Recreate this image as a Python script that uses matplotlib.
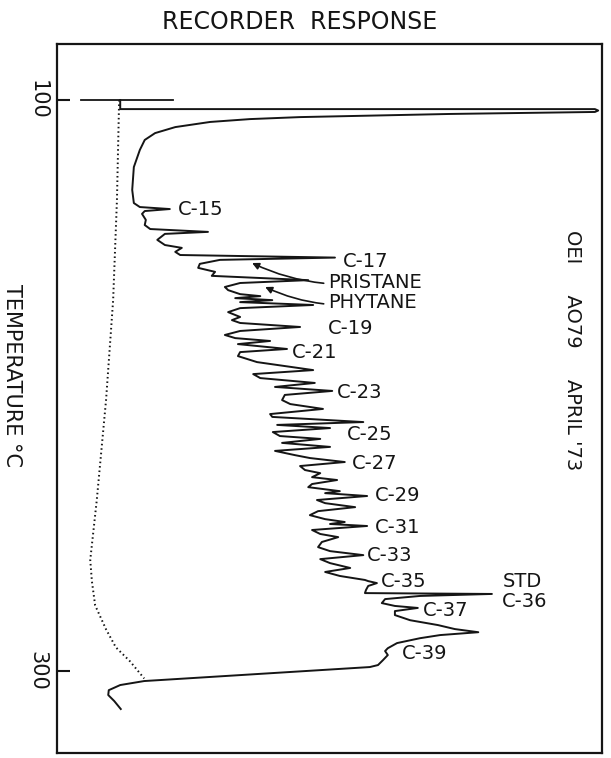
import matplotlib
matplotlib.use("Agg")
import matplotlib.pyplot as plt

plt.rcParams['font.family'] = ['DejaVu Sans']

# ---- data: chromatogram trace (temperature degC, recorder response % full scale)
trace_temp = [100.0, 103.2, 103.2, 103.7, 104.2, 104.9, 106.0, 106.7, 107.7, 109.5,
              111.6, 114.0, 117.5, 123.5, 131.5, 136.1, 137.5, 138.2, 138.9, 139.9,
              142.0, 143.8, 145.2, 146.2, 146.9, 149.0, 150.8, 151.8, 153.2, 154.3,
              155.2, 156.0, 157.4, 158.8, 160.2, 161.6, 163.1, 164.1, 165.5, 166.6,
              168.0, 168.7, 169.4, 170.1, 170.8, 171.8, 172.9, 174.3, 176.0, 177.1,
              178.1, 179.5, 180.9, 182.3, 183.4, 184.4, 185.5, 187.2, 188.3, 189.7,
              191.8, 194.6, 196.0, 197.4, 199.1, 200.5, 201.9, 203.3, 205.1, 206.5,
              208.2, 210.0, 211.0, 212.8, 213.8, 214.9, 216.3, 217.7, 218.7, 220.1,
              221.5, 222.9, 224.4, 225.4, 226.8, 228.2, 229.6, 230.7, 232.1, 233.1,
              234.5, 235.6, 237.0, 237.7, 238.7, 240.1, 241.2, 242.6, 244.0, 245.4,
              246.8, 247.8, 248.5, 249.2, 250.6, 252.0, 253.1, 254.8, 256.6, 258.0,
              259.4, 260.8, 262.2, 263.9, 265.3, 266.7, 268.1, 268.5, 269.2, 270.2,
              271.6, 272.7, 273.0, 273.7, 274.8, 276.2, 277.2, 277.9, 279.0, 280.4,
              282.2, 283.9, 285.3, 286.4, 287.4, 288.5, 290.2, 292.0, 293.0, 294.4,
              296.2, 297.9, 298.6, 303.5, 304.9, 306.7, 308.4, 310.5, 313.3]
trace_resp = [11.6, 11.6, 98.7, 99.3, 98.7, 72.1, 44.6, 35.4, 28.1, 21.7,
              18.0, 16.1, 15.2, 14.1, 13.8, 14.1, 15.2, 20.7, 16.1, 15.6,
              16.3, 16.1, 17.1, 27.7, 19.8, 18.4, 19.8, 22.9, 21.7, 22.6,
              51.0, 29.9, 26.2, 25.9, 29.0, 28.4, 46.1, 33.6, 30.8, 31.4,
              33.6, 37.3, 32.7, 39.5, 33.6, 47.0, 33.6, 31.4, 33.6, 32.1,
              33.6, 44.6, 33.6, 30.8, 32.7, 39.1, 33.2, 42.2, 33.6, 33.2,
              36.7, 47.0, 36.0, 37.3, 47.3, 40.0, 50.5, 41.8, 41.3, 42.8,
              48.8, 39.1, 39.5, 56.2, 40.4, 50.1, 39.6, 40.9, 48.3, 41.3,
              50.1, 40.0, 43.7, 46.4, 52.8, 44.6, 45.5, 48.3, 46.8, 51.4,
              46.8, 46.1, 51.9, 49.2, 56.9, 47.7, 49.2, 54.7, 47.9, 46.4,
              49.2, 52.8, 50.1, 56.9, 46.8, 48.3, 51.6, 48.6, 47.9, 50.1,
              56.2, 48.3, 50.1, 53.8, 49.2, 51.9, 56.5, 57.1, 58.7, 57.1,
              56.7, 56.5, 79.8, 66.6, 60.2, 59.6, 62.0, 66.2, 62.0, 62.0,
              64.8, 69.9, 73.0, 77.3, 70.3, 66.6, 62.4, 60.7, 60.2, 60.7,
              59.8, 58.9, 57.4, 16.0, 11.6, 9.5, 9.4, 10.5, 11.7]

# ---- temperature programme trace (dotted)
prog_temp = [100.0, 135.0, 170.1, 205.1, 240.1, 261.1, 268.5, 277.0, 285.4, 291.7, 296.6, 302.6]
prog_resp = [11.4, 11.0, 10.3, 9.0, 7.3, 6.1, 6.4, 7.0, 9.0, 10.8, 13.4, 16.0]

# ---- injection marker
inject_temp = [100.0, 100.0]
inject_resp = [4.4, 21.3]

# ---- peak labels
peak_labels = ["C-15", "C-17", "C-19", "C-21", "C-23", "C-25", "C-27", "C-29",
               "C-31", "C-33", "C-35", "STD", "C-36", "C-37", "C-39"]
label_temp = [138.5, 156.7, 180.2, 188.3, 202.3, 217.3, 227.2, 238.4,
              249.6, 259.4, 268.5, 268.8, 275.8, 278.7, 293.7]
label_resp = [22.2, 52.5, 49.7, 43.1, 51.4, 53.2, 54.1, 58.4,
              58.4, 56.9, 59.5, 81.7, 81.7, 67.2, 63.3]

arrow_labels = ["PRISTANE", "PHYTANE"]
arrow_label_temp = [163.8, 171.1]
arrow_label_resp = [49.7, 49.7]
arrow_head_temp = [157.1, 165.5]
arrow_head_resp = [35.8, 38.2]

y_ticks = [100, 300]
ink = "#151515"

fig = plt.figure(figsize=(6.11, 7.58), dpi=100)
ax = fig.add_axes([57 / 611, 5 / 758, 545 / 611, 709 / 758])
ax.set_xlim(0, 100)
ax.set_ylim(328.7, 80.4)

ax.plot(trace_resp, trace_temp, color=ink, lw=1.4, solid_joinstyle="round")
ax.plot(prog_resp, prog_temp, color=ink, lw=1.4, linestyle=(0, (0.8, 1.5)))
ax.plot(inject_resp, inject_temp, color=ink, lw=1.3)

fs = 14
for lab, t, r in zip(peak_labels, label_temp, label_resp):
    ax.text(r, t, lab, fontsize=fs, color=ink, ha="left", va="center")

for lab, t, r, ht, hr in zip(arrow_labels, arrow_label_temp, arrow_label_resp,
                             arrow_head_temp, arrow_head_resp):
    ax.annotate(lab, xy=(hr, ht), xytext=(r, t), fontsize=fs, color=ink,
                ha="left", va="center",
                arrowprops=dict(arrowstyle="-|>", color=ink, lw=1.2,
                                shrinkA=1, shrinkB=0, mutation_scale=10,
                                connectionstyle="arc3,rad=-0.15"))

ax.text(94.5, 187.6, "OEI     AO79     APRIL '73", fontsize=14, color=ink,
        rotation=-90, ha="center", va="center")

ax.set_xticks([])
ax.set_yticks(y_ticks)
ax.set_yticklabels([str(v) for v in y_ticks], rotation=-90, va="center", fontsize=15)
ax.tick_params(axis="y", direction="in", length=9, width=1.5, pad=7, colors=ink)
for s in ax.spines.values():
    s.set_linewidth(1.6)
    s.set_color(ink)

ax.set_ylabel("TEMPERATURE °C", rotation=-90, fontsize=15, color=ink,
              ha="center", va="center")
ax.yaxis.set_label_coords(-0.083, 0.532)
ax.set_title("RECORDER  RESPONSE", fontsize=17, color=ink, pad=11, x=0.446)

fig.savefig("out.png", dpi=100)
